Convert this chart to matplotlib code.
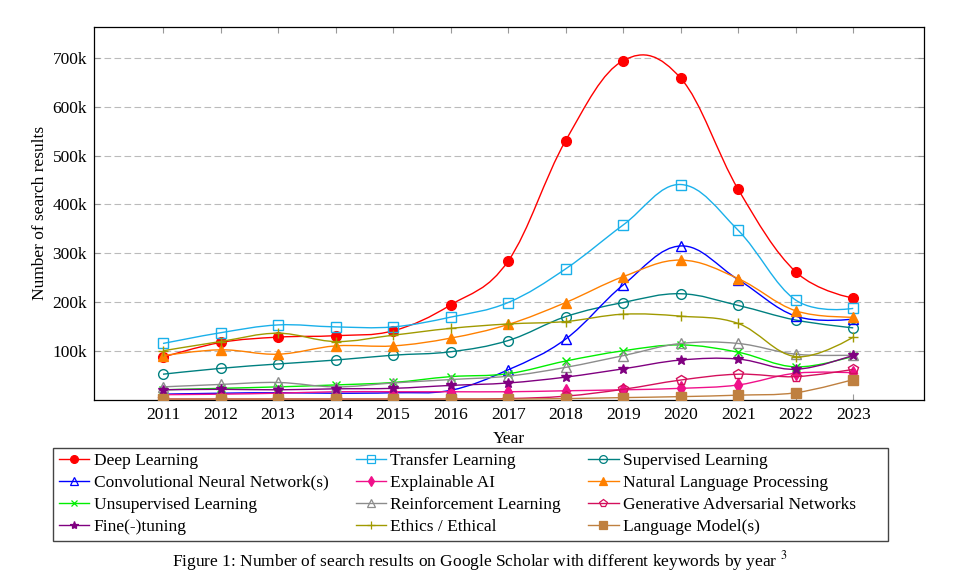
import numpy as np
import matplotlib
matplotlib.use('Agg')
import matplotlib.pyplot as plt
from matplotlib.path import Path
from matplotlib.patches import PathPatch, Rectangle
from matplotlib.lines import Line2D
from matplotlib.ticker import FixedLocator, FuncFormatter

plt.rcParams['font.family'] = ['Liberation Serif', 'DejaVu Serif']
plt.rcParams['mathtext.fontset'] = 'stix'

# data (search results, in thousands)
years = [2011, 2012, 2013, 2014, 2015, 2016, 2017, 2018, 2019, 2020, 2021, 2022, 2023]

deep_learning = [87, 117, 128, 131, 141, 194, 284, 531, 695, 659, 431, 262, 208]
transfer_learning = [115, 137, 153, 149, 149, 169, 199, 268, 358, 441, 347, 204, 187]
supervised = [52, 64, 73, 81, 91, 98, 121, 170, 199, 217, 193, 163, 147]
cnn = [11, 13, 14, 13, 14, 19, 61, 124, 235, 315, 246, 171, 165]
explainable_ai = [10, 11, 13, 16, 16, 16, 16, 18, 20, 23, 30, 54, 55]
nlp = [90, 102, 93, 110, 110, 126, 154, 199, 252, 286, 248, 182, 169]
unsupervised = [20, 23, 26, 30, 35, 47, 53, 79, 100, 112, 97, 67, 89]
reinforcement = [26, 31, 35, 26, 34, 41, 48, 66, 90, 115, 115, 93, 91]
gan = [1, 1, 1, 1, 1, 1, 2, 7, 21, 40, 52, 47, 62]
fine_tuning = [20, 21, 20, 22, 23, 29, 34, 46, 63, 81, 83, 62, 91]
ethics = [100, 119, 136, 119, 132, 146, 155, 160, 175, 171, 156, 88, 128]
language_model = [1, 1, 1, 1, 1, 1, 1, 2, 4, 6, 9, 14, 41]

labels = ['Deep Learning', 'Transfer Learning', 'Supervised Learning',
          'Convolutional Neural Network(s)', 'Explainable AI', 'Natural Language Processing',
          'Unsupervised Learning', 'Reinforcement Learning', 'Generative Adversarial Networks',
          'Fine(-)tuning', 'Ethics / Ethical', 'Language Model(s)']
series = [deep_learning, transfer_learning, supervised, cnn, explainable_ai, nlp,
          unsupervised, reinforcement, gan, fine_tuning, ethics, language_model]
colors = ['#ff0000', '#1ab0ea', '#008080', '#0000ff', '#f0108a', '#ff8000',
          '#00ee00', '#8c8c8c', '#d4105c', '#800080', '#a09a00', '#bf8040']
# (marker, filled, size)
markers = [('o', True, 7), ('s', False, 7), ('o', False, 7), ('^', False, 7),
           ('d', True, 7), ('^', True, 7), ('x', False, 5.5), ('^', False, 7),
           ('p', False, 7), ('*', True, 7.5), ('+', False, 7.5), ('s', True, 7.5)]


def smooth_path(xs, ys, k=0.183):
    # cubic bezier through the points, like pgfplots "smooth"
    xs = np.asarray(xs, float)
    ys = np.asarray(ys, float)
    n = len(xs)
    tx = np.zeros(n)
    ty = np.zeros(n)
    tx[1:-1] = k * (xs[2:] - xs[:-2])
    ty[1:-1] = k * (ys[2:] - ys[:-2])
    verts = [(xs[0], ys[0])]
    codes = [Path.MOVETO]
    for i in range(n - 1):
        verts.append((xs[i] + tx[i], ys[i] + ty[i]))
        verts.append((xs[i + 1] - tx[i + 1], ys[i + 1] - ty[i + 1]))
        verts.append((xs[i + 1], ys[i + 1]))
        codes += [Path.CURVE4] * 3
    return Path(verts, codes)


fig = plt.figure(figsize=(9.59, 5.84), dpi=100)
ax = fig.add_axes([0.098, 0.315, 0.8655, 0.6396])

handles = []
for i, (vals, lab, c, (m, filled, ms)) in enumerate(zip(series, labels, colors, markers)):
    vals_k = [v * 1000 for v in vals]
    z = 3 + i
    patch = PathPatch(smooth_path(years, vals_k), facecolor='none', edgecolor=c,
                      lw=1.0, zorder=z)
    ax.add_patch(patch)
    fc = c if filled else 'none'
    ax.plot(years, vals_k, linestyle='none', marker=m, markersize=ms,
            markerfacecolor=fc, markeredgecolor=c, markeredgewidth=1.0, zorder=z)
    handles.append(Line2D([], [], color=c, lw=1.0, marker=m, markersize=ms * 0.8,
                          markerfacecolor=fc, markeredgecolor=c, markeredgewidth=0.9,
                          label=lab))

# legend fills column by column, so reorder to read row by row
order = [0, 3, 6, 9, 1, 4, 7, 10, 2, 5, 8, 11]
handles = [handles[j] for j in order]

ax.set_xlim(2009.8, 2024.23)
ax.set_ylim(-1000, 765000)
ax.set_xticks(years)
ax.yaxis.set_major_locator(FixedLocator([100000, 200000, 300000, 400000, 500000, 600000, 700000]))
ax.yaxis.set_major_formatter(FuncFormatter(lambda v, p: '{:d}k'.format(int(round(v / 1000)))))
ax.tick_params(direction='in', top=True, right=True, length=4, width=0.8,
               color='#999999', labelsize=12.5, pad=5)
ax.grid(axis='y', color='#bbbbbb', linestyle=(0, (6, 3)), lw=0.8)
ax.set_axisbelow(True)
for s in ax.spines.values():
    s.set_linewidth(0.9)
    s.set_color('black')

ax.set_xlabel('Year', fontsize=12.5, labelpad=6)
ax.set_ylabel('Number of search results', fontsize=12.5, labelpad=3)

leg = fig.legend(handles=handles, ncol=3, loc='upper left', bbox_to_anchor=(0.055, 0.235),
                 fontsize=12.5, frameon=False,
                 handlelength=1.75, handletextpad=0.25, columnspacing=1.57,
                 labelspacing=0.33, borderpad=0.35, borderaxespad=0)

# legend box drawn separately so it can be wider than its content
fig.patches.append(Rectangle((53 / 959, 1 - 541 / 584), (888 - 53) / 959, (541 - 447.5) / 584,
                             transform=fig.transFigure, fill=False, edgecolor='#444444',
                             lw=1.0))

fig.text(0.5, 0.04, 'Figure 1: Number of search results on Google Scholar with different keywords by year $^{3}$',
         ha='center', va='center', fontsize=12.5)

plt.savefig('out.png', dpi=100)
